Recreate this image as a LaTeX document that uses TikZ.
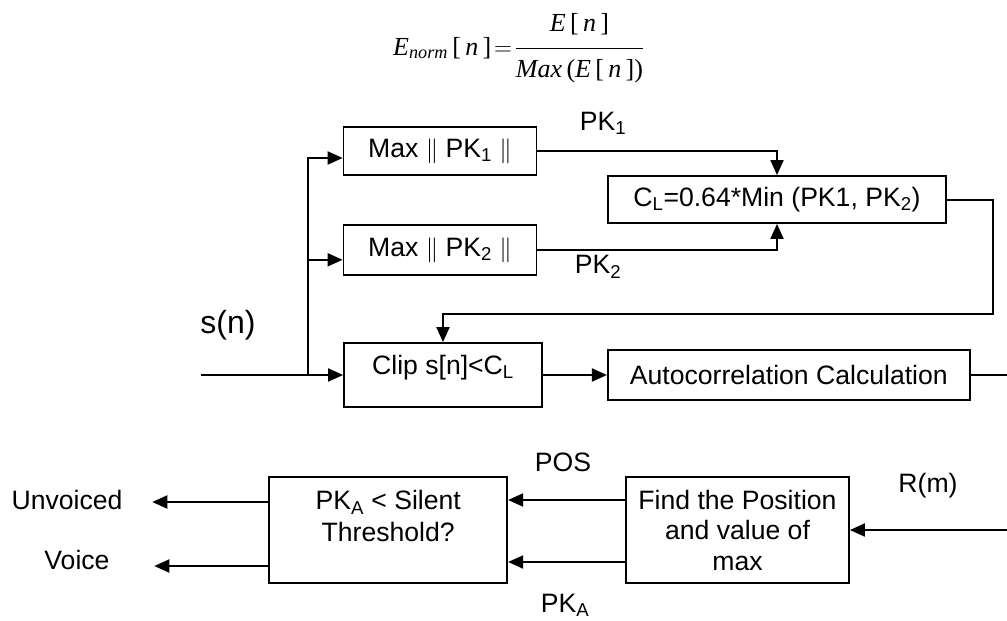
\documentclass[tikz,border=0pt]{standalone}
\usepackage{amsmath}
\usepackage{fontspec}
\setmainfont{Liberation Sans}
\newfontfamily\eqfont{Liberation Serif}
\usetikzlibrary{positioning, arrows.meta}

\begin{document}
\begin{tikzpicture}[
    x=1pt, y=-1pt,
    box/.style={draw, line width=1.8pt, align=center, inner sep=0pt,
                font=\fontsize{26.6}{30.5}\selectfont},
    lbl/.style={inner sep=0pt, font=\fontsize{26.6}{30.5}\selectfont},
    arr/.style={-{Triangle[length=15pt, width=13pt]}, line width=2pt}
  ]
  \useasboundingbox (0,0) rectangle (1007,621);

  \node[font=\eqfont\fontsize{26}{30}\selectfont, anchor=base west, inner sep=0pt] (eq) at (393,55)
    {$\textit{E}_{\textit{norm}}\text{\,[\,}\textit{n}\text{\,]}\!=\!
      \dfrac{\rule[-14pt]{0pt}{14pt}\textit{E}\text{\,[\,}\textit{n}\text{\,]}}
            {\rule{0pt}{25pt}\textit{Max}\text{\,(}\textit{E}\text{\,[\,}\textit{n}\text{\,])}}$};

  \node[box, minimum width=193pt, minimum height=48pt] (maxa) at (440,151)
    {Max $\|$ PK\textsubscript{1} $\|$};
  \node[box, minimum width=193pt, minimum height=50pt, below=48pt of maxa] (maxb)
    {Max $\|$ PK\textsubscript{2} $\|$};
  \node[box, minimum width=338pt, minimum height=47pt] (cl) at (777,199.5)
    {C\textsubscript{L}=0.64*Min (PK1, PK\textsubscript{2})};
  \node[box, minimum width=198pt, minimum height=64pt, text depth=20pt] (clip) at (443,375)
    {Clip s[n]<C\textsubscript{L}};
  \node[box, minimum width=362pt, minimum height=50pt, right=64pt of clip] (acorr)
    {Autocorrelation Calculation};
  \node[box, minimum width=223pt, minimum height=106pt] (find) at (737.5,530)
    {Find the Position\\and value of\\max};
  \node[box, minimum width=238pt, minimum height=106pt, left=117pt of find] (thr)
    {PK\textsubscript{A} < Silent\\[1.5pt]Threshold?\\[-12pt]\strut};

  \node[lbl] (pka) at (603,123) {PK\textsubscript{1}};
  \node[lbl] (pkb) at (598,267) {PK\textsubscript{2}};
  \node[lbl, font=\fontsize{32}{36}\selectfont] (sn) at (228,325) {s(n)};
  \node[lbl] (pos) at (563,462) {POS};
  \node[lbl] (pkc) at (565,605) {PK\textsubscript{A}};
  \node[lbl] (rm) at (928,486) {R(m)};
  \node[lbl] (unv) at (67,500) {Unvoiced};
  \node[lbl] (voi) at (77,560) {Voice};

  \coordinate (src) at (201,375);
  \coordinate (br) at (308,375);
  \coordinate (fb) at (993,314);
  \coordinate (rr) at (1008,530);

  \draw[arr] (src) -- (clip.west);
  \draw[arr] (br) |- ([yshift=-7pt]maxa.west);
  \draw[arr] (br) |- ([yshift=-10pt]maxb.west);
  \draw[arr] (maxa.east) -| (cl.north);
  \draw[arr] (maxb.east) -| (cl.south);
  \draw[arr] (cl.east) -| (fb) -| (clip.north);
  \draw[arr] (clip.east) -- (acorr.west);
  \draw[arr] (acorr.east) -| (rr) -- (find.east);
  \draw[arr] ([yshift=30pt]find.west) -- ([yshift=30pt]thr.east);
  \draw[arr] ([yshift=-32pt]find.west) -- ([yshift=-32pt]thr.east);
  \draw[arr] ([yshift=28pt]thr.west) -- ++(-116,0);
  \draw[arr] ([yshift=-36pt]thr.west) -- ++(-114,0);
\end{tikzpicture}
\end{document}
